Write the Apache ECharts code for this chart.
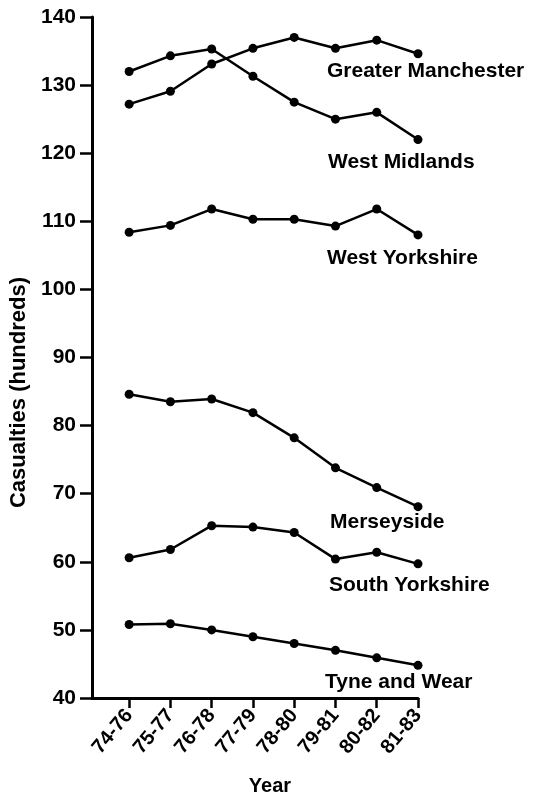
<!DOCTYPE html>
<html>
<head>
<meta charset="utf-8">
<script src="https://cdn.jsdelivr.net/npm/echarts@6/dist/echarts.min.js"></script>
<style>
  html, body { margin: 0; padding: 0; background: #fff; }
  #chart { width: 533px; height: 801px; }
</style>
</head>
<body>
<div id="chart"></div>
<script>
// year periods (x axis)
const years = ['74-76', '75-77', '76-78', '77-79', '78-80', '79-81', '80-82', '81-83']

// casualties, hundreds
const greaterManchester = [127.2, 129.1, 133.1, 135.4, 137.0, 135.4, 136.6, 134.6]
const westMidlands = [132.0, 134.3, 135.3, 131.3, 127.5, 125.0, 126.0, 122.0]
const westYorkshire = [108.4, 109.4, 111.8, 110.3, 110.3, 109.3, 111.8, 108.0]
const merseyside = [84.6, 83.5, 83.9, 81.9, 78.2, 73.8, 70.9, 68.1]
const southYorkshire = [60.6, 61.8, 65.3, 65.1, 64.3, 60.4, 61.4, 59.7]
const tyneAndWear = [50.8, 50.9, 50.0, 49.0, 48.0, 47.0, 45.9, 44.8]

const yTicks = [40, 50, 60, 70, 80, 90, 100, 110, 120, 130, 140]

const FONT = '"Liberation Sans", Arial, sans-serif'
const idx = years.map((_, i) => i)

// 系列 + 末端标签偏移
function makeSeries(name, values, offset) {
  return {
    name,
    type: 'line',
    data: values.map((v, i) => [i, v]),
    symbol: 'circle',
    symbolSize: 9,
    itemStyle: { color: '#000' },
    lineStyle: { color: '#000', width: 2.5 },
    emphasis: { disabled: true },
    endLabel: {
      show: true,
      formatter: name,
      position: 'right',
      distance: 0,
      align: 'left',
      offset,
      color: '#000',
      fontFamily: FONT,
      fontWeight: 'bold',
      fontSize: 21
    }
  }
}

const chart = echarts.init(document.getElementById('chart'))
chart.setOption({
  animation: false,
  grid: { left: 88, right: 115, top: 17, bottom: 101 },
  xAxis: {
    type: 'value',
    min: -0.9,
    max: 7,
    name: 'Year',
    nameLocation: 'middle',
    nameGap: 78,
    nameTextStyle: { color: '#000', fontFamily: FONT, fontWeight: 'bold', fontSize: 20, padding: [0, 0, 0, 30] },
    splitLine: { show: false },
    axisLine: { onZero: false, lineStyle: { color: '#000', width: 3 } },
    axisTick: { customValues: idx, length: 10, lineStyle: { color: '#000', width: 2.5 } },
    axisLabel: {
      customValues: idx,
      formatter: v => years[Math.round(v)],
      rotate: 50,
      margin: 14,
      color: '#000',
      fontFamily: FONT,
      fontWeight: 'bold',
      fontSize: 20
    }
  },
  yAxis: {
    type: 'value',
    min: yTicks[0],
    max: yTicks[yTicks.length - 1],
    interval: 10,
    name: 'Casualties (hundreds)',
    nameLocation: 'middle',
    nameGap: 62,
    nameTextStyle: { color: '#000', fontFamily: FONT, fontWeight: 'bold', fontSize: 22, padding: [0, 70, 0, 0] },
    splitLine: { show: false },
    axisLine: { show: true, onZero: false, lineStyle: { color: '#000', width: 3 } },
    axisTick: { show: true, length: 12, lineStyle: { color: '#000', width: 2.5 } },
    axisLabel: {
      margin: 16,
      color: '#000',
      fontFamily: FONT,
      fontWeight: 'bold',
      fontSize: 21
    }
  },
  series: [
    makeSeries('Greater Manchester', greaterManchester, [-91, 17]),
    makeSeries('West Midlands', westMidlands, [-90, 23]),
    makeSeries('West Yorkshire', westYorkshire, [-91, 23]),
    makeSeries('Merseyside', merseyside, [-88, 16]),
    makeSeries('South Yorkshire', southYorkshire, [-89, 21]),
    makeSeries('Tyne and Wear', tyneAndWear, [-93, 17])
  ]
})
</script>
</body>
</html>
